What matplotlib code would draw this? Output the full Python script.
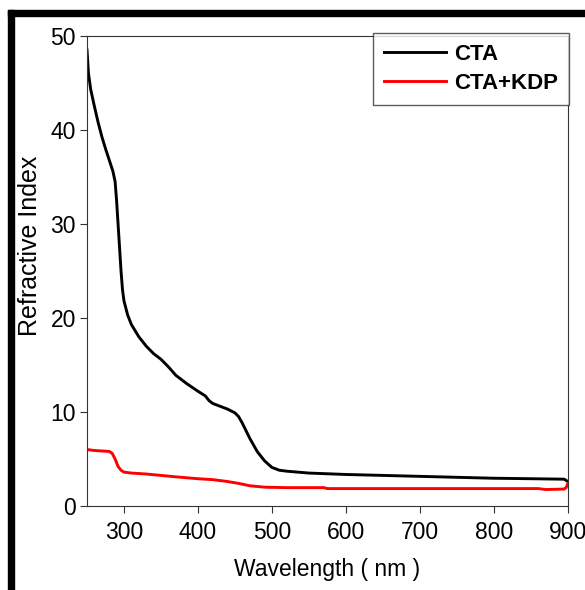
import matplotlib
matplotlib.use("Agg")
import matplotlib.pyplot as plt
from matplotlib.patches import Rectangle

plt.rcParams['font.family'] = ['Liberation Sans', 'DejaVu Sans']

# CTA
wl_cta = [250, 252, 255, 260, 265, 270, 275, 280, 285, 288, 290, 292, 294, 296, 298, 300,
          305, 310, 320, 330, 340, 350, 360, 370, 385, 400, 410, 415, 420, 430, 440,
          450, 455, 460, 465, 470, 475, 480, 490, 500, 510, 520, 550, 600, 650, 700,
          750, 800, 850, 895, 900]
ri_cta = [48.5, 46.0, 44.3, 42.5, 40.8, 39.3, 38.0, 36.8, 35.6, 34.5, 32.5, 30.0, 27.5, 25.0,
          23.0, 21.8, 20.3, 19.3, 18.0, 17.0, 16.2, 15.6, 14.8, 13.9, 13.0, 12.2, 11.7,
          11.2, 10.9, 10.6, 10.3, 9.9, 9.5, 8.8, 8.0, 7.2, 6.5, 5.8, 4.8, 4.1, 3.8,
          3.7, 3.5, 3.35, 3.25, 3.15, 3.05, 2.95, 2.9, 2.85, 2.6]

# CTA+KDP
wl_kdp = [250, 260, 270, 280, 284, 288, 292, 296, 300, 310, 330, 350, 370, 400, 420,
          440, 455, 470, 490, 520, 570, 575, 700, 860, 870, 895, 898, 900]
ri_kdp = [6.0, 5.9, 5.85, 5.8, 5.6, 5.0, 4.2, 3.8, 3.6, 3.5, 3.4, 3.25, 3.1, 2.9, 2.8,
          2.6, 2.4, 2.15, 2.0, 1.95, 1.95, 1.85, 1.85, 1.85, 1.75, 1.8, 2.0, 2.4]

fig = plt.figure(figsize=(5.85, 5.90), dpi=100)
ax = fig.add_axes([0.1487, 0.1424, 0.822, 0.797])

ax.plot(wl_cta, ri_cta, color='black', lw=2.1, label='CTA')
ax.plot(wl_kdp, ri_kdp, color='#ff0000', lw=2.1, label='CTA+KDP')

ax.set_xlim(250, 900)
ax.set_ylim(0, 50)
ax.set_xticks([300, 400, 500, 600, 700, 800, 900])
ax.set_yticks([0, 10, 20, 30, 40, 50])
ax.tick_params(direction='out', length=5, width=0.8, labelsize=16.5, colors='#333333',
               labelcolor='black')
ax.tick_params(axis='x', pad=6)
ax.tick_params(axis='y', pad=3)
for s in ax.spines.values():
    s.set_linewidth(0.8)
    s.set_color('#333333')

ax.set_xlabel('Wavelength ( nm )', fontsize=16.5)
ax.xaxis.set_label_coords(0.5, -0.111)
ax.set_ylabel('Refractive Index', fontsize=18)
ax.yaxis.set_label_coords(-0.094, 0.553)

leg = ax.legend(loc='upper right', bbox_to_anchor=(1.002, 1.006), frameon=True, fancybox=False,
                prop={'weight': 'bold', 'size': 16}, handlelength=2.8, borderpad=0.5,
                labelspacing=0.35, handletextpad=0.35, borderaxespad=0)
leg.get_frame().set_edgecolor('#333333')
leg.get_frame().set_linewidth(1.0)

# black frame on the left and top
fig.patches.append(Rectangle((8 / 585, 1 - 16 / 590), 577 / 585, 6 / 590,
                             transform=fig.transFigure, color='black', zorder=10))
fig.patches.append(Rectangle((8 / 585, 0), 6 / 585, 1 - 10 / 590,
                             transform=fig.transFigure, color='black', zorder=10))

fig.savefig('out.png', dpi=100)
